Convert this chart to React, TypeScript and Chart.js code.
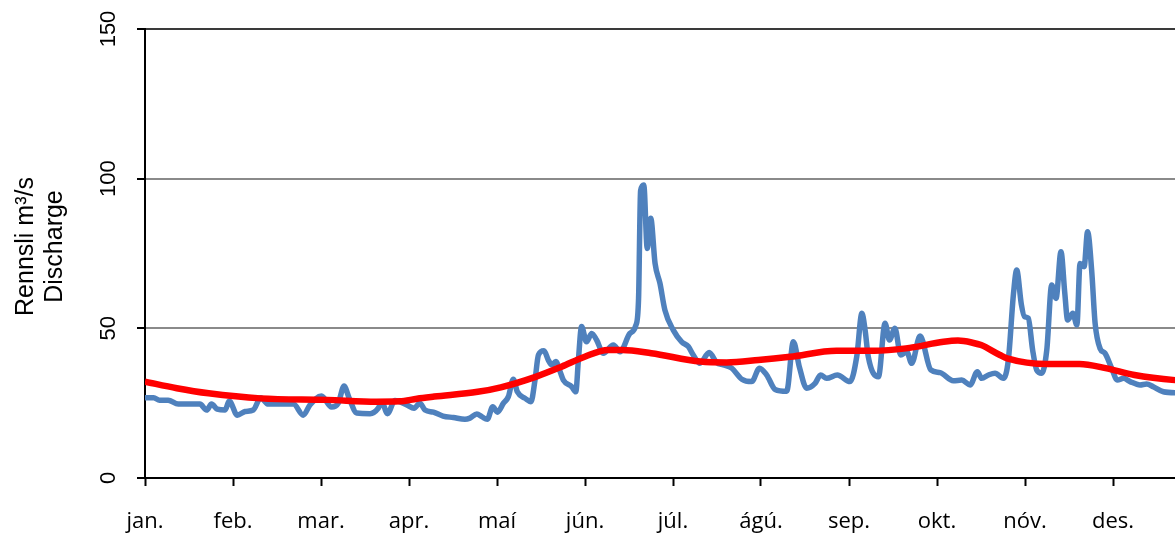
import { useEffect, useRef } from 'react';
import { Chart, registerables } from 'chart.js';

Chart.register(...registerables);

const monthLabels = ['jan.', 'feb.', 'mar.', 'apr.', 'maí', 'jún.', 'júl.', 'ágú.', 'sep.', 'okt.', 'nóv.', 'des.'];
const yTicks = [0, 50, 100, 150];
const titleLines = ['Rennsli m³/s', 'Discharge'];
const daysInYear = 365;

// daily discharge (blue), read at turning points: day of year / m3/s
const flowDays = [
  0, 3, 5, 8, 11.5, 19, 21.3, 23, 25, 27.7, 29.1, 31.9, 34.6, 37.4, 40, 42.6, 51.3, 54.7, 57, 61,
  64.5, 66.8, 68.8, 70.6, 73.2, 77.8, 80.6, 81.8, 83.8, 86.4, 90.5, 93, 95, 96.8, 99.7, 103, 106.6, 110.6, 112.3, 114.7,
  116.4, 118.3, 120.2, 121.8, 123.9, 125.6, 127.3, 128.7, 131.4, 133.4, 134.8, 136, 137.9, 139.4, 140.6, 142, 143.5, 144.6, 147.5, 148.9,
  149.8, 150.9, 152.6, 154.4, 156.1, 158.4, 161.9, 164.2, 167.6, 169.7, 170.6, 171.3, 172.4, 173.6, 174.8, 176.3, 178, 179.7, 182.6, 185.5,
  187.8, 189.5, 191.8, 195, 197.6, 199.9, 202.8, 206.3, 209.7, 212.4, 214.9, 217.8, 221.8, 224.1, 226.2, 228.7, 231.6, 233.5, 235.6, 239.3,
  243.7, 246, 247.8, 248.9, 250, 253.5, 255.8, 257.3, 259.2, 261.2, 263.3, 265, 267.9, 271.6, 274.8, 279.4, 282.3, 285.2, 287.7, 289.2,
  291.5, 293.8, 296.7, 298.4, 300.2, 301.3, 302.9, 304, 305.3, 306.8, 308.2, 309.9, 311.7, 313.4, 314.9, 316.6, 317.9, 318.9, 320.7, 322.1,
  323.2, 324.6, 325.8, 327.2, 328.4, 330.1, 331.8, 334.1, 336.1, 338.2, 340.5, 343.9, 346.2, 348.5, 352, 356, 360, 365,
];
const flowValues = [
  26.8, 26.8, 26, 26, 24.7, 24.7, 22.7, 24.7, 23, 22.7, 25.7, 21, 22.2, 22.7, 26.8, 24.7, 24.7, 21, 24.4, 27.4,
  23.7, 25, 30.7, 26.6, 21.7, 21.5, 23.3, 25.5, 21.5, 25.9, 24.4, 23.3, 25, 22.7, 22, 20.7, 20.2, 19.6, 20, 21.4,
  20.5, 19.6, 23.8, 22, 25, 27.2, 33, 28.8, 26.6, 25.5, 32.7, 41.1, 42.5, 39.4, 37.8, 38.9, 35.5, 32.7, 30.5, 28.8,
  39.4, 50.6, 45.5, 48.3, 46.1, 41.7, 44.4, 42.2, 48.3, 51.1, 60, 96, 97.9, 76.7, 86.8, 71.7, 65, 56.1, 49.4, 45.5,
  43.9, 41.1, 38.3, 41.9, 38.5, 37.8, 36.7, 33, 32.2, 36.7, 34.4, 29.6, 29, 45.5, 37, 30, 31.6, 34.4, 33.3, 34.4,
  32.2, 40.5, 55, 49.4, 40.5, 33.8, 51.7, 46.1, 50, 41.1, 42.2, 38.3, 47.4, 36.1, 35.2, 32.5, 32.7, 31.1, 35.5, 33.3,
  34.4, 35, 33.3, 39.4, 61.7, 69.5, 58, 53.9, 53.4, 42.8, 36.1, 35, 42.8, 64.5, 60, 75.6, 62, 52.8, 55, 51.1,
  71.7, 70.6, 82.3, 69.5, 51.7, 43.3, 41.7, 36.7, 32.7, 33.3, 32.2, 31.1, 31.4, 30.5, 28.8, 28.5, 28.5, 28.3,
];

// long-term mean discharge (red)
const meanDays = [
  0, 11, 22, 40, 63, 80, 88, 94, 100, 115, 123, 135, 144, 152, 160, 165, 175, 192, 201, 212,
  223, 239, 252, 263, 276, 281, 286, 289, 295.5, 298, 312, 323, 332, 342, 356, 365,
];
const meanValues = [
  32.2, 30, 28.3, 26.6, 26.1, 25.5, 25.6, 26.5, 27.2, 28.8, 30.3, 33.8, 37.2, 40.5, 42.8, 42.8, 41.7, 38.9, 38.6, 39.4,
  40.5, 42.5, 42.5, 43.3, 45.5, 45.9, 45.2, 44.4, 41.1, 40, 38.1, 38.1, 36.7, 34.4, 32.7, 32.3,
];

const axisTitle = {
  id: 'axisTitle',
  afterDraw(chart: any) {
    const { ctx, chartArea } = chart;
    ctx.save();
    ctx.translate(26, (chartArea.top + chartArea.bottom) / 2 - 7);
    ctx.rotate(-Math.PI / 2);
    ctx.font = '25px "Liberation Sans", Arial, sans-serif';
    ctx.fillStyle = '#000';
    ctx.textAlign = 'center';
    ctx.textBaseline = 'middle';
    titleLines.forEach((line, i) => ctx.fillText(line, 0, i * 29.5));
    ctx.restore();
  },
};

export default function App() {
  const canvasRef = useRef<HTMLCanvasElement>(null);

  useEffect(() => {
    if (!canvasRef.current) return;

    const chart = new Chart(canvasRef.current, {
      type: 'line',
      data: {
        datasets: [
          {
            label: 'Meðalrennsli',
            data: meanDays.map((d, i) => ({ x: d, y: meanValues[i] })),
            borderColor: '#ff0000',
            borderWidth: 6.5,
            cubicInterpolationMode: 'monotone',
            pointRadius: 0,
            order: 0,
          },
          {
            label: 'Rennsli',
            data: flowDays.map((d, i) => ({ x: d, y: flowValues[i] })),
            borderColor: '#4f81bd',
            borderWidth: 5.5,
            cubicInterpolationMode: 'monotone',
            borderJoinStyle: 'round',
            borderCapStyle: 'round',
            pointRadius: 0,
            order: 1,
          },
        ],
      },
      options: {
        animation: false,
        responsive: true,
        maintainAspectRatio: false,
        layout: { padding: { top: 29, right: 14, left: 0, bottom: 0 } },
        plugins: {
          legend: { display: false },
          tooltip: { enabled: false },
        },
        scales: {
          x: {
            type: 'linear',
            min: 0,
            max: daysInYear,
            afterBuildTicks: (scale: any) => {
              scale.ticks = monthLabels.map((_, i) => ({ value: (i * daysInYear) / 12 }));
            },
            afterFit: (scale: any) => {
              scale.height = 55;
            },
            ticks: {
              autoSkip: false,
              maxRotation: 0,
              padding: 23,
              color: '#000',
              font: { family: '"Open Sans", sans-serif', size: 22 },
              callback: (_v: any, i: number) => monthLabels[i],
            },
            grid: {
              drawOnChartArea: false,
              tickLength: 8,
              tickColor: '#000',
              tickWidth: 2,
            },
            border: { color: '#000', width: 2 },
          },
          y: {
            min: 0,
            max: 150,
            afterBuildTicks: (scale: any) => {
              scale.ticks = yTicks.map((v) => ({ value: v }));
            },
            afterFit: (scale: any) => {
              scale.width = 145;
            },
            ticks: {
              autoSkip: false,
              minRotation: 90,
              maxRotation: 90,
              crossAlign: 'center',
              padding: 10,
              color: '#000',
              font: { family: '"Liberation Sans", Arial, sans-serif', size: 22 },
            },
            grid: {
              color: (ctx: any) => (ctx.tick.value === 150 ? '#3a3a3a' : ctx.tick.value === 0 ? '#000' : '#8a8a8a'),
              lineWidth: 2,
              tickLength: 8,
              tickColor: '#000',
              tickWidth: 2,
            },
            border: { color: '#000', width: 2 },
          },
        },
      },
      plugins: [axisTitle],
    });

    return () => chart.destroy();
  }, []);

  return (
    <div style={{ position: 'fixed', left: 0, top: 0, width: 1175, height: 533, overflow: 'hidden', background: '#fff' }}>
      <div style={{ position: 'relative', width: 1215, height: 533 }}>
        <canvas ref={canvasRef} />
      </div>
    </div>
  );
}
